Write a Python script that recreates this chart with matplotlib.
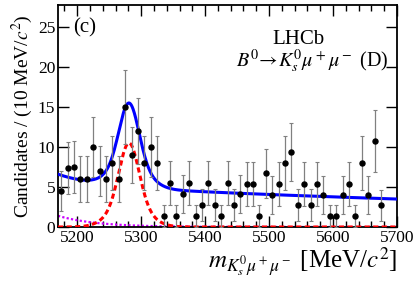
import numpy as np
import matplotlib
matplotlib.use('Agg')
import matplotlib.pyplot as plt
from matplotlib.ticker import MultipleLocator

plt.rcParams['font.family'] = ['Liberation Serif', 'DejaVu Serif']
plt.rcParams['mathtext.fontset'] = 'stix'

# binned candidates, 10 MeV bins from 5170 to 5700 (last two bins empty)
bin_centres = np.arange(5175, 5680, 10)
counts = [4.5, 7.4, 7.5, 6.0, 6.0, 10.0, 7.0, 6.0, 8.0, 6.0,
          15.0, 9.0, 12.0, 8.0, 10.0, 8.0, 1.4, 5.5, 1.4, 4.1,
          5.5, 1.4, 2.75, 5.5, 2.75, 1.4, 5.5, 2.75, 4.1, 5.4,
          5.4, 1.4, 6.7, 4.0, 5.4, 8.0, 9.4, 2.75, 5.4, 2.75,
          5.4, 4.0, 1.4, 1.4, 4.0, 5.4, 1.4, 8.0, 4.0, 10.7, 2.7]
event_weight = 1.4  # candidates are weighted, errors ~ w*sqrt(n)

# fit model
sig_mean = 5281.0
sig_peak = 10.5
sig_frac, sig_w1, sig_w2 = 0.7, 15.0, 27.0
comb_at_lo, comb_slope = 5.2, 0.00075
prc_at_lo, prc_slope = 1.4, 0.0168

counts = np.array(counts)
errs = np.sqrt(counts * event_weight)

m = np.linspace(5170, 5700, 800)
signal = sig_peak * (sig_frac * np.exp(-0.5 * ((m - sig_mean) / sig_w1) ** 2)
                     + (1 - sig_frac) * np.exp(-0.5 * ((m - sig_mean) / sig_w2) ** 2))
comb = comb_at_lo * np.exp(-comb_slope * (m - 5170))
prc = prc_at_lo * np.exp(-prc_slope * (m - 5170))
total = signal + comb + prc

fig = plt.figure(figsize=(4.19, 2.84), dpi=100)
ax = fig.add_axes([58 / 419, 1 - 227 / 284, 339 / 419, 222 / 284])

ax.plot(m, prc, color='#cc00ff', lw=1.6, ls=(0, (1, 1)), zorder=2)
ax.plot(m, signal, color='#ff0000', lw=2.2, ls=(0, (1.7, 1.1)), zorder=3)
ax.plot(m, total, color='#0000ff', lw=2.2, zorder=4)
ax.errorbar(bin_centres, counts, yerr=errs, fmt='o', ms=3.6, color='black',
            ecolor='#808080', elinewidth=0.9, capsize=1.2, capthick=0.8, zorder=5)

ax.set_xlim(5170, 5700)
ax.set_ylim(0, 27.75)
ax.xaxis.set_major_locator(MultipleLocator(100))
ax.xaxis.set_minor_locator(MultipleLocator(20))
ax.yaxis.set_major_locator(MultipleLocator(5))
ax.tick_params(which='both', direction='in', top=True, right=True, labelsize=12.5, width=1.0)
ax.tick_params(which='major', length=8, pad=2)
ax.tick_params(which='minor', length=4)
for s in ax.spines.values():
    s.set_linewidth(1.3)

ax.set_ylabel('Candidates / (10 MeV/$c^2$)', fontsize=14, labelpad=2)
ax.text(1.0, -0.185, r'$m_{K^0_s\mu^+\mu^-}$ [MeV/$c^2$]', transform=ax.transAxes,
        ha='right', va='baseline', fontsize=18)

ax.text(0.045, 0.895, '(c)', transform=ax.transAxes, fontsize=15, va='center', ha='left')
ax.text(0.71, 0.845, 'LHCb', transform=ax.transAxes, fontsize=15, va='center', ha='center')
ax.text(0.975, 0.745, r'$B^0\!\rightarrow\! K^0_s\mu^+\mu^-$ (D)', transform=ax.transAxes,
        fontsize=14.5, va='center', ha='right')

fig.savefig('out.png', dpi=100)
